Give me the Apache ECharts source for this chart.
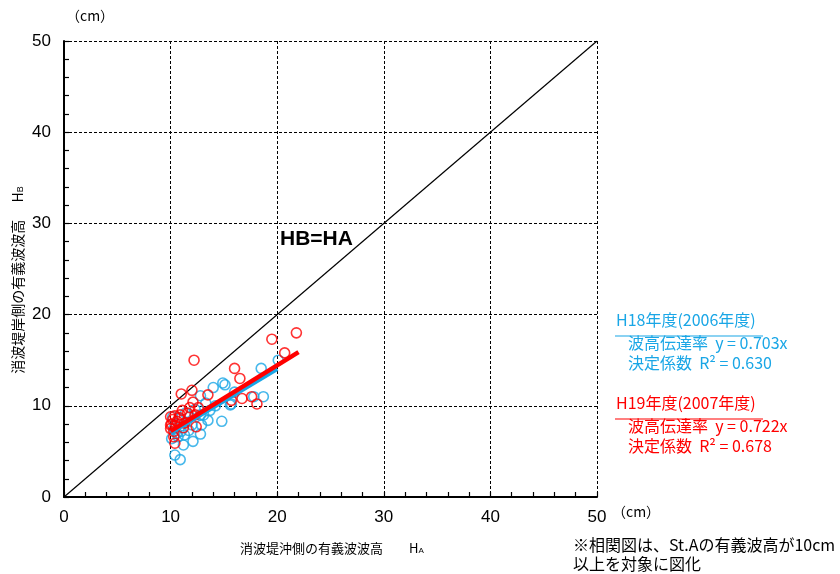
<!DOCTYPE html>
<html>
<head>
<meta charset="utf-8">
<script src="https://cdn.jsdelivr.net/npm/echarts@6/dist/echarts.min.js"></script>
<style>
  html, body { margin: 0; padding: 0; background: #fff; }
  #chart { width: 840px; height: 574px; }
</style>
</head>
<body>
<div id="chart"></div>
<script>
// Significant wave height: offshore side (HA) vs. shore side (HB), cm
const axisTicks = [0, 10, 20, 30, 40, 50];

// FY H18 (2006) observations [HA, HB]
const h18Points = [
  [10.1, 6.4], [10.4, 4.6], [10.9, 4.1], [10.7, 6.6], [11.2, 5.7], [11.3, 6.8],
  [11.7, 7.3], [12.0, 7.9], [12.1, 6.1], [12.8, 6.9], [13.1, 9.0], [13.5, 8.4],
  [12.9, 7.9], [14.8, 8.3], [12.8, 9.0], [13.7, 9.5], [15.6, 10.1], [12.8, 11.1],
  [14.0, 12.0], [14.9, 12.5], [15.1, 12.3], [16.0, 11.5], [18.7, 11.0], [17.8, 11.0],
  [18.5, 14.1], [20.1, 15.0], [10.3, 7.5], [10.5, 8.0], [10.8, 8.6], [11.5, 8.2],
  [11.0, 7.2], [10.2, 8.8], [11.8, 8.8], [12.3, 9.6], [14.2, 10.0], [15.7, 10.2],
  [13.3, 10.3], [10.6, 7.0], [11.4, 9.2]
];

// FY H19 (2007) observations [HA, HB]
const h19Points = [
  [21.8, 18.0], [19.5, 17.3], [20.7, 15.8], [12.2, 15.0], [16.0, 14.1], [16.5, 13.0],
  [12.0, 11.7], [11.0, 11.3], [13.5, 11.2], [12.1, 10.4], [15.7, 10.6], [16.7, 10.8],
  [17.6, 11.0], [18.1, 10.2], [11.1, 9.5], [12.4, 7.7], [10.3, 6.6], [10.4, 5.9],
  [10.0, 7.5], [10.1, 8.0], [10.2, 8.5], [10.0, 8.8], [10.5, 7.8], [10.6, 8.3],
  [10.8, 8.7], [11.2, 7.6], [10.3, 7.2], [10.9, 9.0], [11.6, 9.2], [12.3, 9.0],
  [10.0, 7.9], [10.4, 8.9], [11.3, 8.1], [11.8, 9.8], [12.6, 9.8]
];

// Transmission coefficients (regression through origin) and fitted HA range
const h18Slope = 0.703, h18R2 = 0.630, h18Range = [10, 20];
const h19Slope = 0.722, h19R2 = 0.678, h19Range = [10, 22];
const identityRange = [0, 50];

const BLUE = '#19a6e6';
const RED = '#ff0000';
const NUM_FONT = '"Liberation Sans", Arial, sans-serif';
const JP_FONT = '"Noto Sans CJK JP", "Liberation Sans", sans-serif';

const fitLine = (slope, range) => range.map(x => [x, +(slope * x).toFixed(3)]);

const chart = echarts.init(document.getElementById('chart'), null, { renderer: 'canvas' });

// Minor ticks every 2 cm, pointing into the plot area
const axisCommon = {
  type: 'value',
  min: axisTicks[0],
  max: axisTicks[axisTicks.length - 1],
  interval: 10,
  axisLine: { show: true, onZero: false, lineStyle: { color: '#000', width: 2 } },
  axisTick: { show: true, inside: true, length: 5, lineStyle: { color: '#000', width: 1.2 } },
  minorTick: { show: true, splitNumber: 5, length: 5, lineStyle: { color: '#000', width: 1.2 } },
  splitLine: { show: true, showMinLine: false, showMaxLine: true, lineStyle: { color: '#000', type: [3, 2], width: 1 } },
  axisLabel: { color: '#000', fontSize: 17, fontFamily: NUM_FONT }
};

chart.setOption({
  animation: false,
  backgroundColor: '#fff',
  grid: { left: 64, right: 243, top: 41, bottom: 77, containLabel: false },
  xAxis: Object.assign({}, axisCommon, {
    axisLabel: Object.assign({}, axisCommon.axisLabel, { margin: 12 })
  }),
  yAxis: Object.assign({}, axisCommon, {
    axisLabel: Object.assign({}, axisCommon.axisLabel, { margin: 13 })
  }),
  series: [
    {
      name: 'HB=HA', type: 'line', data: fitLine(1, identityRange), symbol: 'none',
      lineStyle: { color: '#000', width: 1.2 }, silent: true, z: 1
    },
    {
      name: 'H18', type: 'scatter', data: h18Points, symbol: 'circle', symbolSize: 10,
      itemStyle: { color: 'rgba(255,255,255,0)', borderColor: BLUE, borderWidth: 1.6 }, z: 2
    },
    {
      name: 'H19', type: 'scatter', data: h19Points, symbol: 'circle', symbolSize: 10,
      itemStyle: { color: 'rgba(255,255,255,0)', borderColor: RED, borderWidth: 1.6 }, z: 3
    },
    {
      name: 'H18 fit', type: 'line', data: fitLine(h18Slope, h18Range), symbol: 'none',
      lineStyle: { color: BLUE, width: 4.5 }, z: 4
    },
    {
      name: 'H19 fit', type: 'line', data: fitLine(h19Slope, h19Range), symbol: 'none',
      lineStyle: { color: RED, width: 4.5 }, z: 5
    }
  ],
  graphic: [
    { type: 'text', left: 66, top: 9, style: { text: '（cm）', font: '14px ' + JP_FONT, fill: '#000' } },
    { type: 'text', left: 612, top: 505, style: { text: '（cm）', font: '14px ' + JP_FONT, fill: '#000' } },
    { type: 'text', left: 280, top: 229, style: { text: 'HB=HA', font: 'bold 21px ' + NUM_FONT, fill: '#000' } },
    {
      type: 'text', x: 240, y: 548,
      style: {
        text: '消波堤沖側の有義波波高　　H{s|A}', font: '13px ' + JP_FONT, fill: '#000',
        verticalAlign: 'middle',
        rich: { s: { fontSize: 8, fontFamily: NUM_FONT, verticalAlign: 'bottom', padding: [6, 0, 0, 0] } }
      }
    },
    {
      type: 'text', x: 18, y: 280, rotation: Math.PI / 2,
      style: {
        text: '消波堤岸側の有義波波高　 H{s|B}', font: '14px ' + JP_FONT, fill: '#000',
        align: 'center', verticalAlign: 'middle',
        rich: { s: { fontSize: 9, fontFamily: NUM_FONT, verticalAlign: 'bottom', padding: [6, 0, 0, 0] } }
      }
    },
    // FY H18 annotation
    { type: 'text', left: 616, top: 312, style: { text: 'H18年度(2006年度)', font: '16px ' + JP_FONT, fill: BLUE } },
    { type: 'line', shape: { x1: 615, y1: 336, x2: 763, y2: 336 }, style: { stroke: BLUE, lineWidth: 1.2 } },
    { type: 'text', left: 628, top: 335, style: { text: '波高伝達率  y = ' + h18Slope.toFixed(3) + 'x', font: '16px ' + JP_FONT, fill: BLUE } },
    { type: 'text', left: 628, top: 355, style: { text: '決定係数  R² = ' + h18R2.toFixed(3), font: '16px ' + JP_FONT, fill: BLUE } },
    // FY H19 annotation
    { type: 'text', left: 616, top: 395, style: { text: 'H19年度(2007年度)', font: '16px ' + JP_FONT, fill: RED } },
    { type: 'line', shape: { x1: 615, y1: 419, x2: 763, y2: 419 }, style: { stroke: RED, lineWidth: 1.2 } },
    { type: 'text', left: 628, top: 418, style: { text: '波高伝達率  y = ' + h19Slope.toFixed(3) + 'x', font: '16px ' + JP_FONT, fill: RED } },
    { type: 'text', left: 628, top: 438, style: { text: '決定係数  R² = ' + h19R2.toFixed(3), font: '16px ' + JP_FONT, fill: RED } },
    // footnote
    { type: 'text', left: 573, top: 537, style: { text: '※相関図は、St.Aの有義波高が10cm', font: '16px ' + JP_FONT, fill: '#000' } },
    { type: 'text', left: 573, top: 556, style: { text: '以上を対象に図化', font: '16px ' + JP_FONT, fill: '#000' } }
  ]
});
</script>
</body>
</html>
